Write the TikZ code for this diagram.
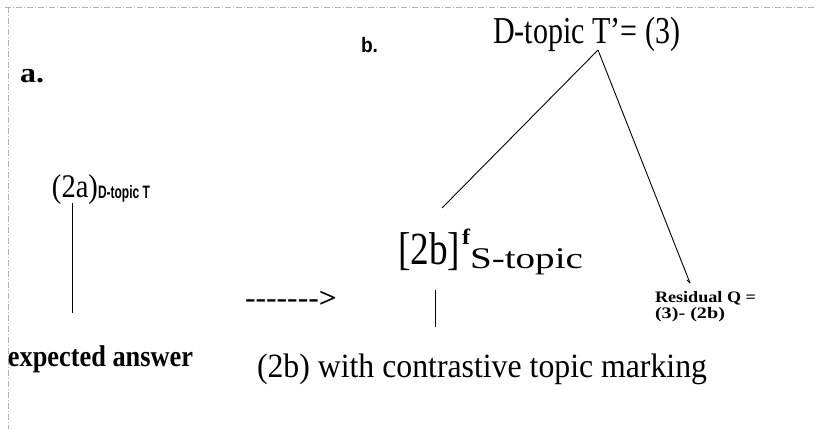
\documentclass[tikz,border=0pt]{standalone}
\usepackage{fontspec}
\setmainfont{Liberation Serif}
\newfontfamily\narrowsans{Liberation Sans}
\newcommand\fw[2]{\resizebox{#1}{\height}{#2}}
\newcommand\hy{\mbox{-}}
\begin{document}
\begin{tikzpicture}[x=1pt,y=-1pt,
  txt/.style={inner sep=0pt,outer sep=0pt,anchor=base west},
  tline/.style={line width=0.9pt,black},
  frame/.style={gray!60,line width=0.5pt,dash pattern=on 6pt off 2pt on 1pt off 2pt}]
\useasboundingbox[fill=white] (0,0) rectangle (817,429);
% frame
\draw[frame] (5,7) -- (815,7);
\draw[frame] (8,7) -- (8,429);
% labels
\node[txt] (a) at (20,82) {\fontsize{28}{28}\selectfont\bfseries\fw{24pt}{a.}};
\node[txt] (b) at (361,52) {\fontsize{21}{21}\selectfont\narrowsans\bfseries\fw{17pt}{b.}};
\node[txt] (dtop) at (493,43) {\fontsize{38}{38}\selectfont\fw{187pt}{D-topic T’= (3)}};
\node[txt] (twoa) at (52,197) {\fontsize{33}{33}\selectfont\fw{46pt}{(2a)}};
\node[txt] (sub) at (98,198) {\fontsize{18}{18}\selectfont\narrowsans\bfseries\fw{52pt}{D-topic T}};
\node[txt] (arr) at (245,307) {\fontsize{28}{28}\selectfont\bfseries\fw{92pt}{\hy\hy\hy\hy\hy\hy\hy>}};
\node[txt] (twob) at (398,264) {\fontsize{46}{46}\selectfont\fw{62pt}{[2b]}};
\node[txt] (f) at (462,244) {\fontsize{22}{22}\selectfont\bfseries\fw{8pt}{f}};
\node[txt] (st) at (470,268) {\fontsize{30}{30}\selectfont\fw{113pt}{S-topic}};
\node[txt] (res1) at (655,302) {\fontsize{16}{16}\selectfont\bfseries\fw{101pt}{Residual Q =}};
\node[txt] (res2) at (655,318) {\fontsize{16}{16}\selectfont\bfseries\fw{70pt}{(3)- (2b)}};
\node[txt] (exp) at (8,366) {\fontsize{30}{30}\selectfont\bfseries\fw{185pt}{expected answer}};
\node[txt] (cap) at (257,377) {\fontsize{34}{34}\selectfont\fw{450pt}{(2b) with contrastive topic marking}};
% connectors
\coordinate (top) at (598,50);
\coordinate (lend) at (442,208);
\coordinate (rend) at (690,283);
\coordinate (a1) at (72,203);
\coordinate (a2) at (72,313);
\coordinate (b1) at (435,290);
\coordinate (b2) at (435,327);
\draw[tline] (top) -- (lend);
\draw[tline] (top) -- (rend);
\draw[tline] (rend) -- ++(-3,-3);
\draw[tline] (a1) -- (a2);
\draw[tline] (b1) -- (b2);
\end{tikzpicture}
\end{document}
